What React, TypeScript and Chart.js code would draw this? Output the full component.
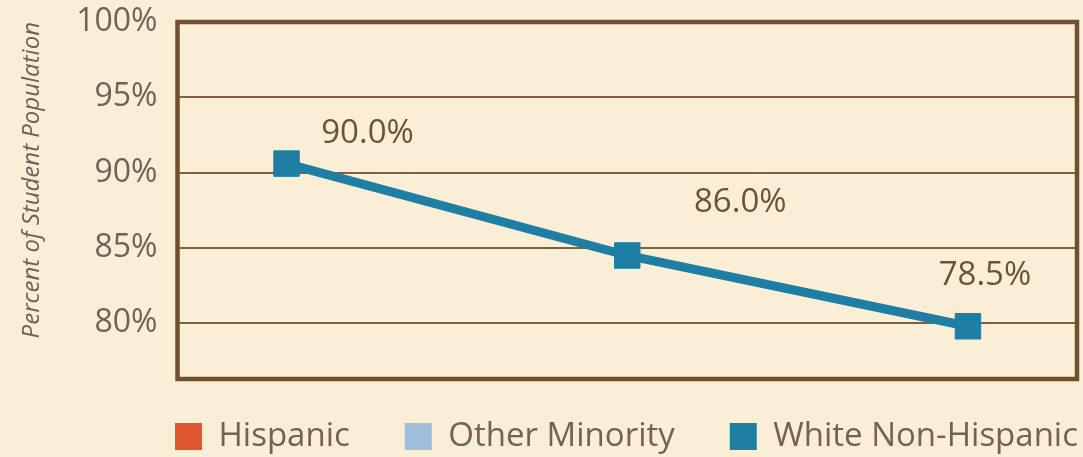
import React, { useEffect, useRef } from 'react';
import { Chart, registerables } from 'chart.js';

Chart.register(...registerables);

// ---- data ----
const seriesNames = ['Hispanic', 'Other Minority', 'White Non-Hispanic'];
const periods = [0, 1, 2];
const hispanicValues: number[] = [];
const otherMinorityValues: number[] = [];
const whiteValues = [90.6, 84.5, 79.8];
const whiteLabels = ['90.0%', '86.0%', '78.5%'];
const yTicks = [80, 85, 90, 95, 100];
const yTitle = 'Percent of Student Population';

// ---- styles ----
const FONT = "'Open Sans', 'DejaVu Sans', sans-serif";
const BROWN = '#72502f';
const GRID = '#80603f';
const TEXT = '#6f6259';
const LABEL = '#6d5239';
const COLORS = ['#df5630', '#9dbfdc', '#1f7ea3'];
const BG = '#faefd6';

const framePlugin = {
  id: 'frame',
  beforeDatasetsDraw(chart: any) {
    const { ctx, chartArea: a } = chart;
    ctx.save();
    ctx.strokeStyle = BROWN;
    ctx.lineWidth = 4.5;
    ctx.strokeRect(a.left, a.top, a.right - a.left, a.bottom - a.top);
    ctx.restore();
  },
};

const labelPlugin = {
  id: 'pointLabels',
  afterDatasetsDraw(chart: any, _args: any, opts: any) {
    const { ctx } = chart;
    const meta = chart.getDatasetMeta(2);
    ctx.save();
    ctx.font = `33px ${FONT}`;
    ctx.fillStyle = LABEL;
    ctx.textAlign = 'center';
    ctx.textBaseline = 'middle';
    meta.data.forEach((pt: any, i: number) => {
      const off = opts.offsets[i] || [0, 0];
      ctx.fillText(whiteLabels[i], pt.x + off[0], pt.y + off[1]);
    });
    ctx.restore();
  },
};

const legendShiftPlugin = {
  id: 'legendShift',
  afterLayout(chart: any, _args: any, opts: any) {
    const lg = chart.legend;
    if (!lg) return;
    lg.left += opts.dx;
    lg.right += opts.dx;
    lg.top += opts.dy;
    lg.bottom = chart.height;
  },
};

export default function App() {
  const ref = useRef<HTMLCanvasElement | null>(null);

  useEffect(() => {
    document.body.style.margin = '0';
    document.body.style.background = BG;
    document.body.style.overflow = 'hidden';
    const canvas = ref.current;
    if (!canvas) return;
    const defaultLabels = (Chart as any).defaults.plugins.legend.labels.generateLabels;
    const chart = new Chart(canvas, {
      type: 'line',
      data: {
        datasets: [
          {
            label: seriesNames[0],
            data: periods.slice(0, hispanicValues.length).map((p, i) => ({ x: p, y: hispanicValues[i] })),
            borderColor: COLORS[0],
            backgroundColor: COLORS[0],
          },
          {
            label: seriesNames[1],
            data: periods.slice(0, otherMinorityValues.length).map((p, i) => ({ x: p, y: otherMinorityValues[i] })),
            borderColor: COLORS[1],
            backgroundColor: COLORS[1],
          },
          {
            label: seriesNames[2],
            data: periods.map((p, i) => ({ x: p, y: whiteValues[i] })),
            borderColor: COLORS[2],
            backgroundColor: COLORS[2],
            borderWidth: 9,
            tension: 0,
            pointStyle: 'rect',
            pointRadius: 18,
            pointBorderWidth: 1,
            pointBackgroundColor: COLORS[2],
            pointBorderColor: COLORS[2],
          },
        ],
      },
      options: {
        animation: false,
        responsive: true,
        maintainAspectRatio: false,
        layout: { autoPadding: false, padding: { top: 22, right: 6, bottom: 0, left: 0 } },
        scales: {
          x: {
            type: 'linear',
            display: false,
            min: -0.32,
            max: 2.32,
          },
          y: {
            min: 76.3,
            max: 100,
            afterFit: (s: any) => {
              s.width = 177.5;
            },
            afterBuildTicks: (s: any) => {
              s.ticks = yTicks.map((v) => ({ value: v }));
            },
            ticks: {
              padding: 0,
              color: TEXT,
              font: { family: FONT, size: 32 },
              callback: (v: any) => `${v}%`,
            },
            grid: {
              color: GRID,
              lineWidth: 2,
              drawTicks: true,
              tickLength: 20,
              tickColor: 'rgba(0,0,0,0)',
            },
            border: { display: false },
            title: {
              display: true,
              text: yTitle,
              align: 'end',
              color: TEXT,
              font: { family: FONT, size: 24, style: 'italic' },
              padding: { top: 18, bottom: 0 },
            },
          },
        },
        plugins: {
          legend: {
            position: 'bottom',
            align: 'center',
            maxHeight: 78,
            labels: {
              boxWidth: 27,
              boxHeight: 27,
              padding: 55,
              color: '#76624f',
              font: { family: FONT, size: 33 },
              generateLabels: (c: any) =>
                defaultLabels(c).map((l: any) => ({ ...l, lineWidth: 0, fillStyle: COLORS[l.datasetIndex] })),
            },
          },
          tooltip: { enabled: false },
          pointLabels: { offsets: [[81, -30], [113, -53], [17, -51]] },
          legendShift: { dx: 88, dy: -14 },
        } as any,
      },
      plugins: [framePlugin, labelPlugin, legendShiftPlugin],
    } as any);
    return () => chart.destroy();
  }, []);

  return (
    <div style={{ width: 1083, height: 457, position: 'relative', overflow: 'hidden', background: BG }}>
      <canvas ref={ref} style={{ display: 'block' }} />
    </div>
  );
}
